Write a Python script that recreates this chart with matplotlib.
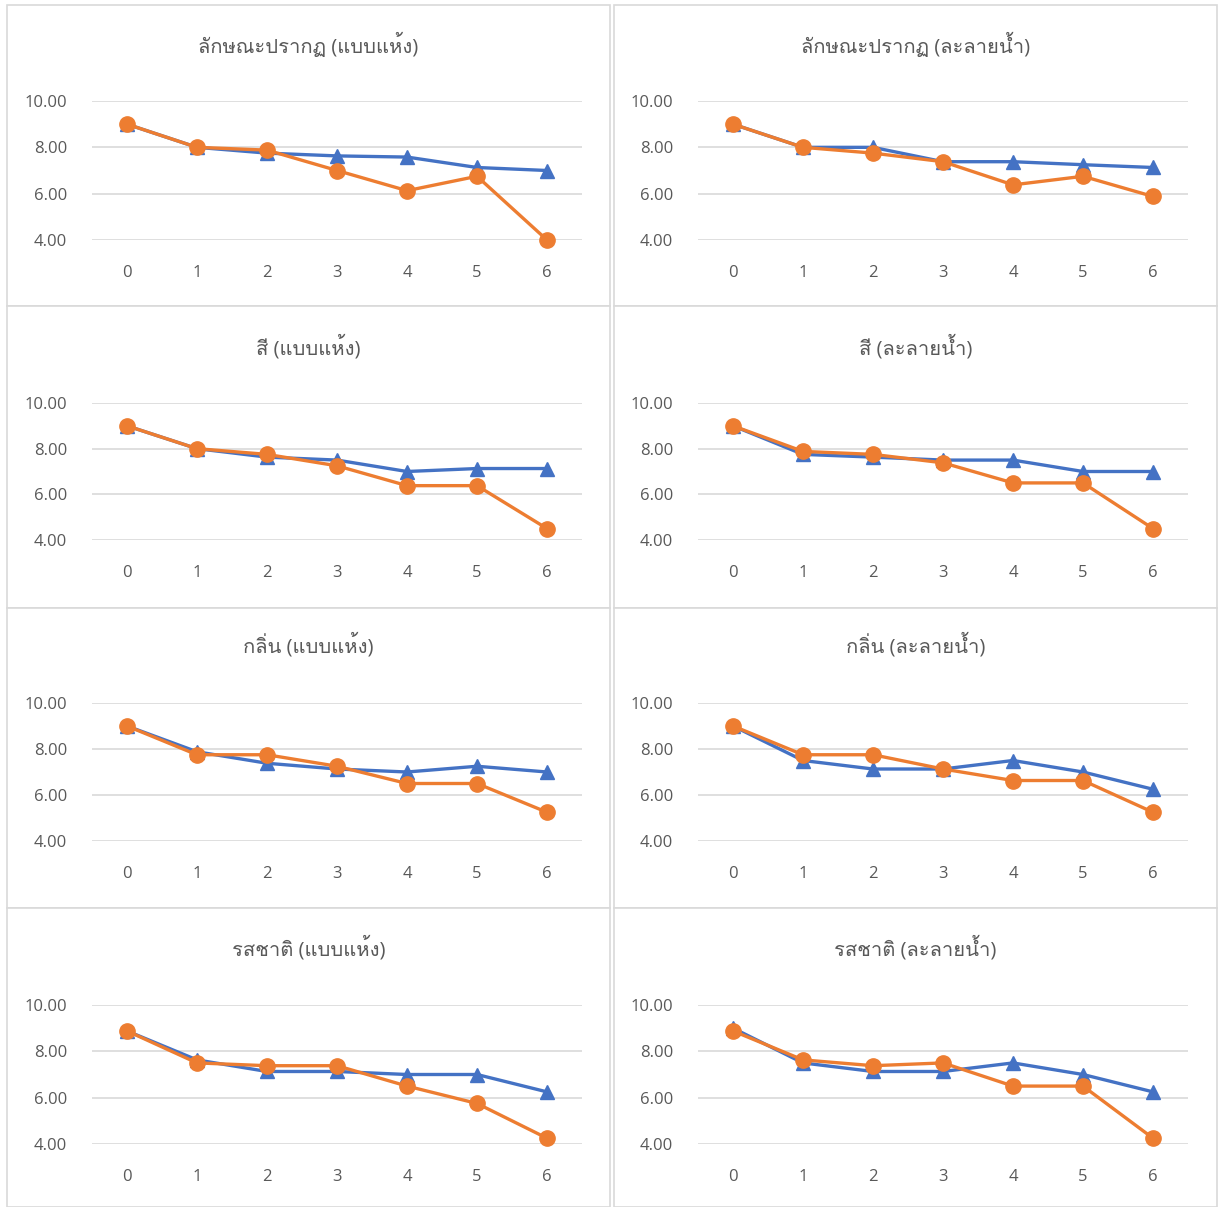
import matplotlib

matplotlib.use("Agg")
from matplotlib import pyplot as plt
from matplotlib.patches import Rectangle

W, H = 1218, 1207

x = [0, 1, 2, 3, 4, 5, 6]
x_labels = ["0", "1", "2", "3", "4", "5", "6"]
y_ticks = [4, 6, 8, 10]

titles = [
    "ลักษณะปรากฏ (แบบแห้ง)", "ลักษณะปรากฏ (ละลายน้ำ)",
    "สี (แบบแห้ง)", "สี (ละลายน้ำ)",
    "กลิ่น (แบบแห้ง)", "กลิ่น (ละลายน้ำ)",
    "รสชาติ (แบบแห้ง)", "รสชาติ (ละลายน้ำ)",
]

appearance_dry_blue = [9.0, 8.0, 7.75, 7.63, 7.58, 7.13, 7.0]
appearance_dry_orange = [9.0, 8.0, 7.88, 7.0, 6.13, 6.75, 4.0]
appearance_wet_blue = [9.0, 8.0, 8.0, 7.38, 7.38, 7.25, 7.13]
appearance_wet_orange = [9.0, 8.0, 7.75, 7.38, 6.38, 6.75, 5.88]
color_dry_blue = [9.0, 8.0, 7.63, 7.5, 7.0, 7.13, 7.13]
color_dry_orange = [9.0, 8.0, 7.75, 7.25, 6.38, 6.38, 4.5]
color_wet_blue = [9.0, 7.75, 7.63, 7.5, 7.5, 7.0, 7.0]
color_wet_orange = [9.0, 7.88, 7.75, 7.38, 6.5, 6.5, 4.5]
smell_dry_blue = [9.0, 7.88, 7.38, 7.13, 7.0, 7.25, 7.0]
smell_dry_orange = [9.0, 7.75, 7.75, 7.25, 6.5, 6.5, 5.25]
smell_wet_blue = [9.0, 7.5, 7.13, 7.13, 7.5, 7.0, 6.25]
smell_wet_orange = [9.0, 7.75, 7.75, 7.13, 6.63, 6.63, 5.25]
taste_dry_blue = [8.88, 7.63, 7.13, 7.13, 7.0, 7.0, 6.25]
taste_dry_orange = [8.88, 7.5, 7.38, 7.38, 6.5, 5.75, 4.25]
taste_wet_blue = [9.0, 7.5, 7.13, 7.13, 7.5, 7.0, 6.25]
taste_wet_orange = [8.88, 7.63, 7.38, 7.5, 6.5, 6.5, 4.25]

series = [
    (appearance_dry_blue, appearance_dry_orange),
    (appearance_wet_blue, appearance_wet_orange),
    (color_dry_blue, color_dry_orange),
    (color_wet_blue, color_wet_orange),
    (smell_dry_blue, smell_dry_orange),
    (smell_wet_blue, smell_wet_orange),
    (taste_dry_blue, taste_dry_orange),
    (taste_wet_blue, taste_wet_orange),
]

# Latin text in Open Sans, Thai falls through to Loma
plt.rcParams["font.family"] = ["Open Sans", "Loma", "DejaVu Sans"]

BLUE = "#4472C4"
ORANGE = "#ED7D31"
GREY_TEXT = "#595959"
GRID = "#D9D9D9"

# pixel layout of the 4x2 grid of chart boxes
frame_rows = [(5, 306), (306, 608), (608, 908), (908, 1207)]
frame_cols = [(7, 610), (614, 1217)]
plot_rows = [(101, 240), (403, 540), (703, 841), (1005, 1144)]
plot_cols = [(92, 582), (698, 1188)]
title_rows = [45, 347, 645, 948]

fig = plt.figure(figsize=(W / 100, H / 100), dpi=100)

for i, (blue, orange) in enumerate(series):
    r, c = divmod(i, 2)
    fx0, fx1 = frame_cols[c]
    fy0, fy1 = frame_rows[r]
    fig.patches.append(Rectangle((fx0 / W, 1 - fy1 / H), (fx1 - fx0) / W, (fy1 - fy0) / H,
                                 transform=fig.transFigure, facecolor="white",
                                 edgecolor=GRID, lw=1.2, zorder=-5))
    px0, px1 = plot_cols[c]
    py0, py1 = plot_rows[r]
    ax = fig.add_axes([px0 / W, 1 - py1 / H, (px1 - px0) / W, (py1 - py0) / H])
    ax.set_facecolor("none")
    ax.set_xlim(-0.5, 6.5)
    ax.set_ylim(4, 10)
    ax.set_yticks(y_ticks)
    ax.set_yticklabels([f"{v:.2f}" for v in y_ticks])
    ax.set_xticks(x)
    ax.set_xticklabels(x_labels)
    for s in ax.spines.values():
        s.set_visible(False)
    ax.tick_params(length=0, pad=18, labelsize=12, colors=GREY_TEXT)
    ax.grid(axis="y", color=GRID, lw=1.2)
    ax.set_axisbelow(True)
    ax.plot(x, blue, color=BLUE, lw=2.4, marker="^", markersize=10, clip_on=False, zorder=3)
    ax.plot(x, orange, color=ORANGE, lw=2.4, marker="o", markersize=11, clip_on=False, zorder=4)
    fig.text((fx0 + fx1) / 2 / W, 1 - title_rows[r] / H, titles[i], ha="center", va="center",
             fontsize=14.5, color=GREY_TEXT)

fig.savefig("out.png", dpi=100)
